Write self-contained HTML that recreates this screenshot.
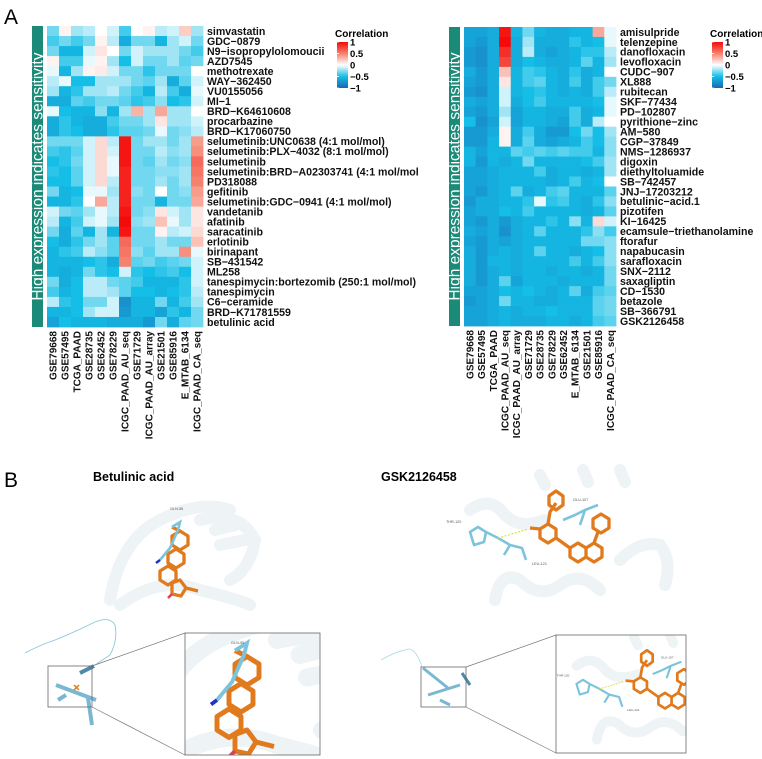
<!DOCTYPE html>
<html><head><meta charset="utf-8"><style>
html,body{margin:0;padding:0;background:#fff;overflow:hidden;}
svg{display:block;font-family:"Liberation Sans",Arial,sans-serif;}
.lbl{font-size:10.6px;font-weight:bold;fill:#111;}
.xl{font-size:10px;font-weight:bold;fill:#111;}
</style></head><body>
<svg id="fig" width="762" height="759" viewBox="0 0 762 759">
<defs>
<linearGradient id="lg" x1="0" y1="0" x2="0" y2="1">
<stop offset="0" stop-color="#f50a0a"/><stop offset="0.25" stop-color="#f5826e"/><stop offset="0.5" stop-color="#ffffff"/><stop offset="0.75" stop-color="#14bee6"/><stop offset="1" stop-color="#1c64b4"/></linearGradient>
<clipPath id="clipL"><rect x="185" y="633" width="135" height="122"/></clipPath>
<clipPath id="clipR"><rect x="556" y="635" width="130" height="118"/></clipPath>
<g id="betMol">
<g fill="none" stroke="#eef3f6" stroke-width="12" stroke-linecap="round">
<path d="M110 600 Q120 540 160 520 Q200 500 230 510"/><path d="M200 520 Q240 510 255 540 Q250 570 230 580"/><path d="M120 605 Q160 575 200 590 Q240 600 250 605"/><path d="M215 530 L235 525 M220 545 L245 540"/></g>
<g fill="none" stroke="#e07a1c" stroke-width="3.3" stroke-linejoin="round">
<path d="M180 531 L188 536 L188 545 L180 550 L172 545 L172 536 Z"/>
<path d="M176 549 L184 554 L184 563 L176 568 L168 563 L168 554 Z"/>
<path d="M168 566 L176 571 L176 580 L168 585 L160 580 L160 571 Z"/>
<path d="M172 583 L180 580 L186 588 L181 596 L172 594 Z"/><path d="M186 588 L198 591"/><path d="M180 531 L172 527"/></g>
<g fill="none" stroke="#7cc4dc" stroke-width="2.6"><path d="M172 527 L180 522 L178 530 L170 548 L160 560"/></g>
<path d="M160 560 L156 563" stroke="#2233cc" stroke-width="2.6"/><path d="M172 594 L168 598" stroke="#e04050" stroke-width="2.6"/>
</g>
<g id="gskMol">
<g fill="none" stroke="#eef3f6" stroke-width="12" stroke-linecap="round">
<path d="M470 510 Q490 495 505 515 Q520 530 545 520"/><path d="M495 600 Q500 570 520 580 Q540 600 560 585 Q580 570 600 590"/><path d="M620 560 Q640 540 660 545 Q672 560 665 585"/><path d="M540 475 L545 485 M583 470 L588 482 M620 470 L625 482"/></g>
<g fill="none" stroke="#e07a1c" stroke-width="3.3" stroke-linejoin="round">
<path d="M548 524 L556 529 L556 538 L548 543 L540 538 L540 529 Z"/><path d="M540 529 L530 528"/>
<path d="M556 538 L570 548"/>
<path d="M578 543 L586 548 L586 557 L578 562 L570 557 L570 548 Z"/>
<path d="M586 548 L594 543 L602 548 L602 557 L594 562 L586 557"/>
<path d="M594 543 L598 532"/>
<path d="M601 514 L609 519 L609 528 L601 533 L593 528 L593 519 Z"/>
<path d="M548 524 L550 512 L556 503"/>
<path d="M556 491 L563 496 L563 505 L556 510 L549 505 L549 496 Z"/></g>
<g fill="none" stroke="#7cc4dc" stroke-width="2.6" stroke-linejoin="round">
<path d="M470 532 L478 527 L486 532 L484 542 L474 545 Z"/><path d="M486 532 L498 538 L510 545 L522 548 L526 560"/><path d="M510 545 L504 555"/>
<path d="M563 520 L575 515 L585 510 L598 505 M585 510 L580 525"/></g>
<path d="M498 538 Q512 534 528 529" stroke="#d8e040" stroke-width="1.2" stroke-dasharray="2 1.5" fill="none"/>
<text x="446" y="523" font-size="3.8" fill="#555">THR-120</text>
<text x="573" y="501" font-size="3.8" fill="#555">GLU-107</text>
<text x="532" y="565" font-size="3.8" fill="#555">LEU-121</text>
</g>
</defs>
<text x="4" y="24" font-size="21">A</text>
<text x="4" y="487" font-size="21">B</text>
<g id="hm1"></g>
<g id="hm2"></g>
<g>
<text x="93" y="481" font-size="12.5" font-weight="bold">Betulinic acid</text>
<text x="381" y="481" font-size="12.5" font-weight="bold">GSK2126458</text>
<use href="#betMol"/>
<text x="170" y="510" font-size="3.8" fill="#555">GLN-55</text>
<use href="#gskMol"/>
<g fill="none" stroke="#8cc6dc" stroke-width="0.9"><path d="M25 653 Q40 645 55 640 Q75 632 95 622 Q110 616 115 625 Q118 640 110 655 L95 665"/></g>
<g stroke="#7ab8d2" stroke-width="4" fill="none"><path d="M80 673 L94 666" stroke="#4d8aa6"/><path d="M56 685 L96 700"/><path d="M58 700 L66 695"/><path d="M88 698 L92 725"/></g>
<path d="M74 685 L79 690 M79 685 L74 690" stroke="#e07a1c" stroke-width="1.5"/>
<rect x="48" y="666" width="44" height="41" fill="none" stroke="#666" stroke-width="0.8"/>
<path d="M92 666 L185 633 M92 707 L185 755" stroke="#777" stroke-width="0.7"/>
<g clip-path="url(#clipL)"><use href="#betMol" transform="translate(247,670) scale(1.5) translate(-180,-540)"/></g>
<text x="231" y="644" font-size="3.8" fill="#555">GLN-55</text>
<rect x="185" y="633" width="135" height="122" fill="none" stroke="#666" stroke-width="0.8"/>
<path d="M381 660 Q395 652 405 650 Q415 645 422 667" fill="none" stroke="#b8dcea" stroke-width="0.9"/>
<g stroke="#7ab8d2" stroke-width="3" fill="none"><path d="M423 668 L448 688"/><path d="M428 695 L460 685"/><path d="M462 673 L470 685" stroke="#4d8aa6"/><path d="M440 700 L450 705"/></g>
<rect x="421" y="667" width="45" height="40" fill="none" stroke="#666" stroke-width="0.8"/>
<path d="M466 667 L556 635 M466 707 L556 753" stroke="#777" stroke-width="0.7"/>
<g clip-path="url(#clipR)"><use href="#gskMol" transform="translate(583,688) scale(0.82) translate(-478,-537)"/></g>
<rect x="556" y="635" width="130" height="118" fill="none" stroke="#666" stroke-width="0.8"/>
</g>
</svg>
<script>
const leftDrugs=["simvastatin","GDC−0879","N9−isopropylolomoucii","AZD7545","methotrexate","WAY−362450","VU0155056","MI−1","BRD−K64610608","procarbazine","BRD−K17060750","selumetinib:UNC0638 (4:1 mol/mol)","selumetinib:PLX−4032 (8:1 mol/mol)","selumetinib","selumetinib:BRD−A02303741 (4:1 mol/mol","PD318088","gefitinib","selumetinib:GDC−0941 (4:1 mol/mol)","vandetanib","afatinib","saracatinib","erlotinib","birinapant","SB−431542","ML258","tanespimycin:bortezomib (250:1 mol/mol)","tanespimycin","C6−ceramide","BRD−K71781559","betulinic acid"];
const leftCohorts=["GSE79668","GSE57495","TCGA_PAAD","GSE28735","GSE62452","GSE78229","ICGC_PAAD_AU_seq","GSE71729","ICGC_PAAD_AU_array","GSE21501","GSE85916","E_MTAB_6134","ICGC_PAAD_CA_seq"];
const leftValues=[
[-0.3,0.05,-0.2,-0.15,0,-0.1,-0.4,0,0.05,-0.15,-0.1,0.2,-0.2],
[-0.4,-0.3,-0.4,-0.3,0.05,-0.15,-0.6,-0.3,-0.3,-0.55,-0.2,-0.1,-0.3],
[-0.3,-0.55,-0.55,-0.1,0.1,0,-0.3,-0.1,-0.2,-0.2,-0.2,-0.3,-0.4],
[0.05,-0.4,-0.4,-0.05,0.05,-0.2,-0.5,-0.1,-0.3,-0.3,-0.2,-0.35,-0.3],
[-0.05,-0.55,-0.2,0.05,0.08,-0.1,-0.3,-0.3,-0.45,-0.3,-0.3,-0.3,0],
[-0.15,-0.05,-0.5,-0.5,-0.2,-0.2,-0.2,-0.3,-0.35,-0.2,-0.6,-0.35,-0.1],
[-0.2,-0.55,-0.45,-0.2,-0.2,-0.15,-0.3,-0.4,-0.55,-0.15,-0.4,-0.6,-0.05],
[-0.6,-0.6,-0.35,-0.4,-0.3,-0.3,-0.35,-0.45,-0.4,-0.25,-0.5,-0.45,-0.1],
[-0.05,-0.5,-0.55,-0.55,-0.25,-0.55,-0.2,0.3,-0.2,0.35,-0.2,-0.2,0],
[-0.6,-0.45,-0.55,-0.6,-0.6,-0.4,-0.3,-0.3,-0.2,0.1,-0.2,-0.2,-0.1],
[-0.6,-0.45,-0.5,-0.6,-0.6,-0.45,-0.35,-0.35,-0.3,-0.05,-0.3,-0.25,-0.15],
[-0.3,-0.3,-0.3,-0.1,0.15,-0.15,0.95,-0.3,-0.2,-0.2,-0.3,-0.2,0.4],
[-0.4,-0.45,-0.35,-0.1,0.15,-0.1,0.95,-0.3,-0.3,-0.15,-0.25,-0.2,0.45],
[-0.5,-0.45,-0.3,-0.1,0.15,-0.05,0.95,-0.3,-0.35,-0.2,-0.3,-0.25,0.6],
[-0.45,-0.5,-0.35,-0.1,0.15,-0.05,0.9,-0.3,-0.3,-0.25,-0.25,-0.2,0.55],
[-0.5,-0.5,-0.35,-0.1,0.15,-0.15,0.9,-0.3,-0.3,-0.2,-0.3,-0.2,0.5],
[-0.3,-0.55,-0.5,-0.05,-0.05,-0.2,0.9,-0.25,-0.3,0,-0.3,-0.25,0.4],
[-0.55,-0.55,-0.45,0,0.35,-0.15,0.9,-0.3,-0.3,-0.55,-0.3,-0.3,0.35],
[-0.1,-0.3,-0.35,-0.2,-0.05,-0.15,0.95,-0.3,-0.25,0.1,-0.1,-0.2,0.1],
[-0.15,-0.55,-0.4,-0.1,-0.05,-0.2,1,-0.25,-0.2,0.25,-0.05,-0.2,0.1],
[-0.3,-0.6,-0.35,-0.55,-0.2,-0.55,0.95,-0.3,-0.3,0.05,-0.15,-0.1,0.15],
[-0.5,-0.6,-0.45,-0.3,-0.2,-0.35,0.6,-0.3,-0.3,-0.2,-0.3,-0.3,0.25],
[-0.55,-0.45,-0.4,-0.15,-0.25,-0.35,0.55,-0.25,-0.35,-0.2,-0.2,0.45,-0.05],
[-0.55,-0.55,-0.55,-0.5,-0.45,-0.6,0.5,-0.35,-0.3,-0.4,-0.35,-0.3,-0.1],
[-0.55,-0.6,-0.55,-0.3,-0.45,-0.5,-0.1,-0.45,-0.5,-0.45,-0.4,-0.5,-0.1],
[-0.3,-0.6,-0.5,-0.15,-0.15,-0.3,-0.35,-0.4,-0.55,-0.55,-0.55,-0.45,-0.1],
[-0.4,-0.55,-0.5,-0.15,-0.15,-0.2,-0.35,-0.5,-0.5,-0.55,-0.5,-0.45,-0.15],
[-0.15,-0.45,-0.5,-0.3,-0.3,-0.1,-0.75,-0.55,-0.55,-0.3,-0.55,-0.4,-0.2],
[-0.55,-0.55,-0.5,-0.2,-0.1,-0.1,-0.7,-0.55,-0.55,-0.65,-0.45,-0.55,-0.3],
[-0.65,-0.5,-0.55,-0.55,-0.55,-0.6,-0.6,-0.6,-0.7,-0.3,-0.6,-0.35,-0.3]];
const rightDrugs=["amisulpride","telenzepine","danofloxacin","levofloxacin","CUDC−907","XL888","rubitecan","SKF−77434","PD−102807","pyrithione−zinc","AM−580","CGP−37849","NMS−1286937","digoxin","diethyltoluamide","SB−742457","JNJ−17203212","betulinic−acid.1","pizotifen","KI−16425","ecamsule−triethanolamine","ftorafur","napabucasin","sarafloxacin","SNX−2112","saxagliptin","CD−1530","betazole","SB−366791","GSK2126458"];
const rightCohorts=["GSE79668","GSE57495","TCGA_PAAD","ICGC_PAAD_AU_seq","ICGC_PAAD_AU_array","GSE71729","GSE28735","GSE78229","GSE62452","E_MTAB_6134","GSE21501","GSE85916","ICGC_PAAD_CA_seq"];
const rightValues=[
[-0.65,-0.65,-0.6,0.95,-0.55,-0.3,-0.55,-0.6,-0.6,-0.55,-0.55,0.35,-0.05],
[-0.65,-0.7,-0.6,1,-0.6,-0.2,-0.6,-0.6,-0.6,-0.45,-0.55,-0.5,-0.05],
[-0.7,-0.75,-0.6,0.85,-0.6,-0.15,-0.6,-0.65,-0.6,-0.55,-0.45,-0.45,-0.15],
[-0.7,-0.75,-0.6,0.75,-0.6,-0.5,-0.55,-0.6,-0.6,-0.55,-0.35,-0.55,-0.2],
[-0.6,-0.7,-0.6,0.25,-0.55,-0.4,-0.45,-0.55,-0.6,-0.45,-0.6,-0.55,0],
[-0.65,-0.7,-0.6,0.1,-0.55,-0.4,-0.35,-0.55,-0.6,-0.4,-0.6,-0.4,-0.3],
[-0.7,-0.75,-0.6,-0.1,-0.55,-0.5,-0.45,-0.55,-0.6,-0.55,-0.6,-0.4,-0.15],
[-0.6,-0.65,-0.6,-0.1,-0.6,-0.5,-0.4,-0.55,-0.55,-0.55,-0.55,-0.5,-0.05],
[-0.65,-0.7,-0.6,-0.2,-0.65,-0.55,-0.55,-0.6,-0.6,-0.4,-0.6,-0.55,-0.05],
[-0.5,-0.75,-0.65,-0.1,-0.65,-0.55,-0.55,-0.6,-0.65,-0.4,-0.6,-0.15,0],
[-0.7,-0.7,-0.6,0.05,-0.6,-0.4,-0.6,-0.7,-0.7,-0.5,-0.3,-0.5,-0.2],
[-0.7,-0.7,-0.55,0.05,-0.6,-0.35,-0.6,-0.65,-0.6,-0.55,-0.4,-0.5,-0.25],
[-0.55,-0.65,-0.55,-0.55,-0.35,-0.4,-0.35,-0.4,-0.35,-0.4,-0.4,-0.55,-0.25],
[-0.55,-0.7,-0.55,-0.6,-0.55,-0.3,-0.55,-0.55,-0.55,-0.55,-0.5,-0.4,-0.2],
[-0.65,-0.65,-0.6,-0.55,-0.55,-0.55,-0.4,-0.6,-0.55,-0.55,-0.6,-0.55,-0.2],
[-0.65,-0.65,-0.6,-0.55,-0.55,-0.55,-0.55,-0.6,-0.55,-0.4,-0.55,-0.5,0],
[-0.65,-0.7,-0.6,-0.55,-0.35,-0.6,-0.55,-0.4,-0.35,-0.55,-0.55,-0.55,-0.35],
[-0.7,-0.6,-0.6,-0.55,-0.55,-0.45,-0.05,-0.45,-0.4,-0.55,-0.6,-0.45,-0.25],
[-0.65,-0.6,-0.6,-0.5,-0.55,-0.4,-0.55,-0.55,-0.55,-0.55,-0.6,-0.55,-0.35],
[-0.65,-0.7,-0.6,-0.7,-0.6,-0.55,-0.55,-0.45,-0.55,-0.25,-0.55,0.15,-0.1],
[-0.6,-0.65,-0.6,-0.75,-0.6,-0.55,-0.35,-0.55,-0.55,-0.55,-0.45,-0.25,-0.4],
[-0.65,-0.7,-0.6,-0.65,-0.6,-0.55,-0.55,-0.55,-0.55,-0.55,-0.3,-0.3,-0.25],
[-0.6,-0.7,-0.6,-0.55,-0.6,-0.55,-0.35,-0.55,-0.55,-0.6,-0.55,-0.5,-0.25],
[-0.6,-0.7,-0.55,-0.55,-0.6,-0.55,-0.55,-0.55,-0.55,-0.4,-0.55,-0.4,-0.25],
[-0.6,-0.7,-0.6,-0.55,-0.6,-0.55,-0.55,-0.6,-0.55,-0.55,-0.6,-0.55,-0.3],
[-0.6,-0.7,-0.6,-0.35,-0.65,-0.55,-0.55,-0.55,-0.6,-0.55,-0.55,-0.55,-0.3],
[-0.65,-0.65,-0.6,-0.5,-0.55,-0.5,-0.55,-0.6,-0.55,-0.35,-0.6,-0.4,-0.35],
[-0.7,-0.65,-0.6,-0.3,-0.55,-0.55,-0.6,-0.6,-0.55,-0.55,-0.55,-0.35,-0.3],
[-0.65,-0.65,-0.6,-0.55,-0.6,-0.55,-0.55,-0.5,-0.55,-0.55,-0.55,-0.35,-0.3],
[-0.65,-0.65,-0.6,-0.55,-0.6,-0.6,-0.6,-0.55,-0.55,-0.6,-0.55,-0.4,-0.35]];
const legendTicks=["1","0.5","0","−0.5","−1"];
const legendTickVals=[1,0.5,0,-0.5,-1];

const NS="http://www.w3.org/2000/svg";
const stops=[[-1,[28,100,180]],[-0.5,[20,190,230]],[0,[255,255,255]],[0.5,[245,130,110]],[1,[245,10,10]]];
function colorOf(v){
  v=Math.max(-1,Math.min(1,v));
  for(let i=0;i<stops.length-1;i++){
    const a=stops[i],b=stops[i+1];
    if(v<=b[0]){const t=(v-a[0])/(b[0]-a[0]);
      return "rgb("+a[1].map((c,k)=>Math.round(c+(b[1][k]-c)*t)).join(",")+")";}
  }
  return "rgb(245,10,10)";
}
function mk(tag,attrs,parent){const e=document.createElementNS(NS,tag);for(const k in attrs)e.setAttribute(k,attrs[k]);parent.appendChild(e);return e;}
function drawHeatmap(g,drugs,cohorts,values,x0,y0,w,h,barX,legX){
  const cw=w/cohorts.length, rh=h/drugs.length;
  const xScale=c=>x0+c*cw, yScale=r=>y0+r*rh;
  const bar=mk("rect",{x:barX,y:y0,width:11,height:h,fill:"#1b8a78"},g);
  
  
  const bt=mk("text",{x:0,y:0,"font-size":"15.5",fill:"#fff","text-anchor":"middle",transform:"translate("+(barX+10.5)+","+(y0+h/2)+") rotate(-90)"},g);
  bt.textContent="High expression indicates sensitivity";
  
  
  values.forEach((row,r)=>row.forEach((v,c)=>{
    const cell=mk("rect",{x:xScale(c).toFixed(2),y:yScale(r).toFixed(2),width:(cw+0.4).toFixed(2),height:(rh+0.4).toFixed(2),fill:colorOf(v)},g);
    
    
  }));
  drugs.forEach((d,r)=>{
    const t=mk("text",{x:x0+w+4,y:(yScale(r)+rh/2+3.8).toFixed(2),class:"lbl"},g);
    t.textContent=d;
    
    
  });
  cohorts.forEach((c,i)=>{
    const cx=xScale(i)+cw/2+3.6, cy=y0+h+4;
    const t=mk("text",{x:0,y:0,class:"xl","text-anchor":"end",transform:"translate("+cx.toFixed(2)+","+cy+") rotate(-90)"},g);
    t.textContent=c;
    
    
  });
  const lt=mk("text",{x:legX-2,y:37,"font-size":"10","font-weight":"bold"},g);
  lt.textContent="Correlation";
  
  
  const ly0=42, lh=46;
  const lr=mk("rect",{x:legX,y:ly0,width:11,height:lh,fill:"url(#lg)"},g);
  
  
  legendTicks.forEach((s,i)=>{
    const yy=ly0+(1-legendTickVals[i])/2*lh;
    const tk=mk("line",{x1:legX,x2:legX+2,y1:yy,y2:yy,stroke:"#fff","stroke-width":"0.8"},g);
    
    
    const tt=mk("text",{x:legX+13,y:yy+3.5,"font-size":"9.5","font-weight":"bold"},g);
    tt.textContent=s;
    
    
  });
}
drawHeatmap(document.getElementById("hm1"),leftDrugs,leftCohorts,leftValues,47,26,156,301,32,337);
drawHeatmap(document.getElementById("hm2"),rightDrugs,rightCohorts,rightValues,464,27,152,299,449,712);
</script>
</body></html>
